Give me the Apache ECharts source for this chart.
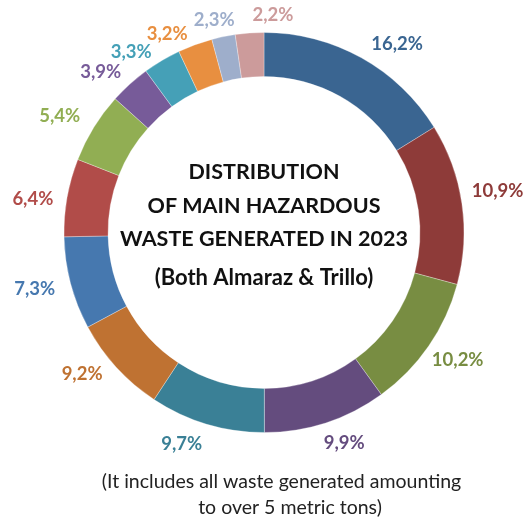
<!DOCTYPE html>
<html><head><meta charset="utf-8">
<script src="https://cdn.jsdelivr.net/npm/echarts@6/dist/echarts.min.js"></script>
<style>html,body{margin:0;padding:0;background:#fff}#c{width:528px;height:521px}</style>
</head><body><div id="c"></div>
<script>
// Slice shares as drawn in the ring
const sliceShares = [16.2, 13.0, 10.85, 9.95, 9.3, 7.9, 7.5, 6.3, 5.7, 3.3, 3.06, 2.8, 1.9, 2.3];
// Percentage labels printed next to each slice
const labelTexts = ['16,2%', '10,9%', '10,2%', '9,9%', '9,7%', '9,2%', '7,3%', '6,4%', '5,4%', '3,9%', '3,3%', '3,2%', '2,3%', '2,2%'];
const sliceColors = ['#3A6591', '#8E3B39', '#788D42', '#644C7E', '#3A8096', '#BF7232', '#4678AF', '#B14C49', '#91AE53', '#775B99', '#45A0B7', '#E88F40', '#9EAECB', '#CC9B9B'];
const labelColors = ['#3A6591', '#8E3B39', '#788D42', '#644C7E', '#3A8096', '#BF7232', '#4678AF', '#B14C49', '#91AE53', '#775B99', '#45A0B7', '#E88F40', '#9EAECB', '#CC9B9B'];
const titleLines = ['DISTRIBUTION', 'OF MAIN HAZARDOUS', 'WASTE GENERATED IN 2023'];
const subtitle = '(Both Almaraz & Trillo)';
const noteLines = ['(It includes all waste generated amounting', 'to over 5 metric tons)'];

const FONT = 'Lato';
// small label placement tweaks (style only)
const labelNudge = {
  1: {dx: -8, dy: -10},
  2: {dx: -12, dy: 5},
  3: {dx: -9, dy: 5},
  4: {dx: 2, dy: 5},
  5: {dy: -4},
  6: {dx: 2, dy: 2},
  7: {dx: 4, dy: 4},
  8: {dx: 2, dy: -3},
  9: {dx: 4},
  10: {dy: 5},
  11: {dy: 4},
  12: {align: 'center', dx: -4, dy: -1},
  13: {align: 'left', dx: 6, dy: -2}
};

const chart = echarts.init(document.getElementById('c'), null, {renderer: 'canvas'});
chart.setOption({
  animation: false,
  title: [
    {text: titleLines.join('\n'), left: 'center', top: 155.5, padding: 0,
     textStyle: {fontFamily: FONT, fontSize: 21.5, fontWeight: 'bold', lineHeight: 33.5, color: '#111'}},
    {text: subtitle, left: 'center', top: 264.5, padding: 0,
     textStyle: {fontFamily: FONT, fontSize: 22, fontWeight: 'bold', lineHeight: 27, color: '#111'}},
    {text: noteLines[0], left: 281.5, top: 469, padding: 0, textAlign: 'center',
     textStyle: {fontFamily: FONT, fontSize: 19.5, fontWeight: 'normal', lineHeight: 26, color: '#222'}},
    {text: noteLines[1], left: 290, top: 495, padding: 0, textAlign: 'center',
     textStyle: {fontFamily: FONT, fontSize: 19.5, fontWeight: 'normal', lineHeight: 26, color: '#222'}}
  ],
  series: [{
    type: 'pie',
    center: [264, 232.5],
    radius: [156, 200],
    startAngle: 90,
    clockwise: true,
    avoidLabelOverlap: false,
    itemStyle: {borderColor: 'rgba(255,255,255,0.5)', borderWidth: 0.6},
    emphasis: {disabled: true},
    label: {show: true, position: 'outside', distanceToLabelLine: 2,
      fontFamily: FONT, fontSize: 18.5, fontWeight: 'bold',
      formatter: p => labelTexts[p.dataIndex]},
    labelLine: {show: false, length: 16, length2: 0},
    labelLayout: p => labelNudge[p.dataIndex] || {},
    data: sliceShares.map((v, i) => ({
      value: v, name: labelTexts[i],
      itemStyle: {color: sliceColors[i]},
      label: {color: labelColors[i]}
    }))
  }]
});
</script></body></html>
